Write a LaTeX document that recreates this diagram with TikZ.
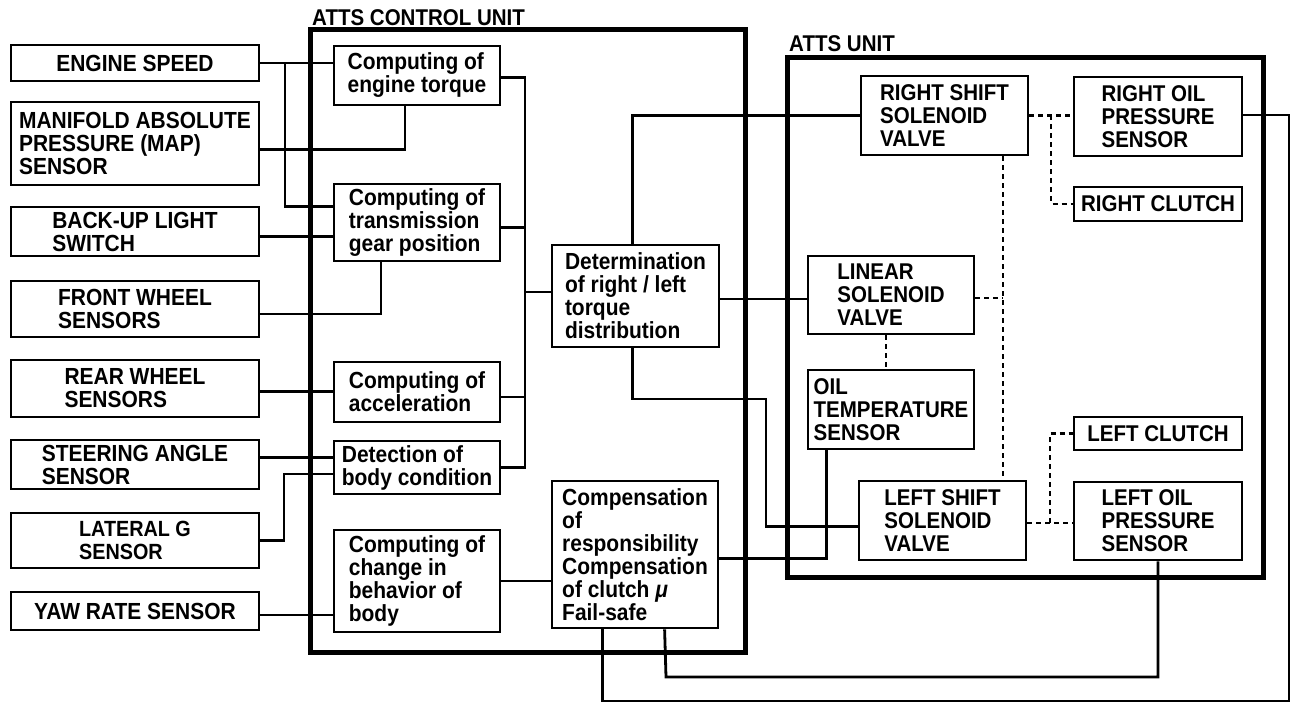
\documentclass[tikz,border=0pt]{standalone}
\usepackage{fontspec}
\setmainfont{Liberation Sans}[FakeStretch=0.9]
\usetikzlibrary{positioning}

\begin{document}
\begin{tikzpicture}[
    x=1pt, y=-1pt,
    sensor/.style={draw, line width=2.8pt, minimum width=248pt, inner sep=0pt,
                   align=left, font=\fontsize{23.3}{23}\selectfont\bfseries},
    proc/.style={draw, line width=2.8pt, minimum width=166pt, inner sep=0pt,
                 align=left, font=\fontsize{23.3}{23}\selectfont\bfseries},
    part/.style={draw, line width=2.8pt, minimum width=167pt, inner sep=0pt,
                 align=left, font=\fontsize{22.8}{23}\selectfont\bfseries},
    frame/.style={line width=5pt},
    wire/.style={line width=2.8pt},
    link/.style={line width=2.2pt, dash pattern=on 5pt off 4pt},
    title/.style={inner sep=0pt, anchor=base west, font=\fontsize{22.8}{23}\selectfont\bfseries},
]
\useasboundingbox (0,0) rectangle (1312,708);

% === Unit frames ===
\draw[frame] (310,30) rectangle (745,652);
\draw[frame] (787,58) rectangle (1263,577);
\node[title] (cuTitle) at (312,26) {ATTS CONTROL UNIT};
\node[title] (auTitle) at (789,52) {ATTS UNIT};

% === Sensors and switches (left column) ===
\node[sensor, minimum height=36pt] (es)  at (135,63)    {ENGINE SPEED};
\node[sensor, minimum height=83pt] (map) at (135,143.5) {MANIFOLD ABSOLUTE\\PRESSURE (MAP)\\SENSOR};
\node[sensor, minimum height=49pt] (bul) at (135,231.5) {BACK-UP LIGHT\\SWITCH};
\node[sensor, minimum height=56pt] (fws) at (135,309)   {FRONT WHEEL\\SENSORS};
\node[sensor, minimum height=57pt] (rws) at (135,388.5) {REAR WHEEL\\SENSORS};
\node[sensor, minimum height=49pt] (sas) at (135,464.5) {STEERING ANGLE\\SENSOR};
\node[sensor, minimum height=55pt, font=\fontsize{22}{23}\selectfont\bfseries] (lgs) at (135,540.5) {LATERAL G\\SENSOR};
\node[sensor, minimum height=38pt] (yrs) at (135,611)   {YAW RATE SENSOR};

% === Computing blocks (control unit) ===
\node[proc, minimum height=59pt]  (cet)  at (417,75.5)  {Computing of\\engine torque};
\node[proc, minimum height=77pt]  (ctg)  at (417,222.5) {Computing of\\transmission\\gear position};
\node[proc, minimum height=60pt]  (cacc) at (417,392)   {Computing of\\acceleration};
\node[proc, minimum height=53pt]  (dbc)  at (417,467.5) {Detection of\\body condition};
\node[proc, minimum height=102pt] (ccb)  at (417,581)   {Computing of\\change in\\behavior of\\body};
\node[proc, minimum height=102pt, minimum width=167pt] (dtd) at (635.5,296) {Determination\\of\ right / left\\torque\\distribution};
\node[proc, minimum height=147pt] (cmp)  at (635,554.5) {Compensation\\of\\responsibility\\Compensation\\of clutch\ \textit{μ}\\Fail-safe};

% === Valves, sensors and clutches (ATTS unit) ===
\node[part, minimum height=79pt] (rss) at (944.5,115.5) {RIGHT SHIFT\\SOLENOID\\VALVE};
\node[part, minimum height=79pt, minimum width=168pt] (rops) at (1158,116.5) {RIGHT OIL\\PRESSURE\\SENSOR};
\node[part, minimum height=34pt, minimum width=168pt] (rcl)  at (1158,204)   {RIGHT CLUTCH};
\node[part, minimum height=78pt, minimum width=166pt] (lsv)  at (891,295)    {LINEAR\\SOLENOID\\VALVE};
\node[part, minimum height=79pt, minimum width=166pt] (ots)  at (891,409.5)  {OIL\\TEMPERATURE\\SENSOR};
\node[part, minimum height=79pt] (lss) at (942.5,520.5) {LEFT SHIFT\\SOLENOID\\VALVE};
\node[part, minimum height=33pt, minimum width=168pt] (lcl)  at (1158,433.5) {LEFT CLUTCH};
\node[part, minimum height=78pt, minimum width=168pt] (lops) at (1158,521)   {LEFT OIL\\PRESSURE\\SENSOR};

% === Helper coordinates ===
\coordinate (esx) at (285,0);   % engine speed branch
\coordinate (bus) at (525,0);   % collecting line
\coordinate (dv)  at (1003,0);  % dashed line between shift valves

% === Inputs to computing blocks ===
\draw[wire] (es.east) -- (es.east -| cet.west);
\draw[wire] (es.east -| esx) |- ([yshift=-24pt]ctg.north west);
\draw[wire] ([yshift=-6pt]map.east) -| ([xshift=-12pt]cet.south);
\draw[wire] ([yshift=-5pt]bul.east) -- ([yshift=-5pt]bul.east -| ctg.west);
\draw[wire] ([yshift=-5pt]fws.east) -| ([xshift=-36pt]ctg.south);
\draw[wire] ([yshift=-3pt]rws.east) -- ([yshift=-3pt]rws.east -| cacc.west);
\draw[wire] ([yshift=7pt]sas.east) -- ([yshift=7pt]sas.east -| dbc.west);
\draw[wire] (lgs.east) -| (284,474) -- (dbc.west |- 284,474);
\draw[wire] ([yshift=-4pt]yrs.east) -- ([yshift=-4pt]yrs.east -| ccb.west);

% === Computing blocks to determination / compensation ===
\draw[wire] ([yshift=-2pt]cet.east) -| (dbc.east -| bus) -- (dbc.east);
\draw[wire] ([yshift=-5pt]ctg.east) -- ([yshift=-5pt]ctg.east -| bus);
\draw[wire] ([yshift=-5pt]cacc.east) -- ([yshift=-5pt]cacc.east -| bus);
\draw[wire] ([yshift=4pt]dtd.west -| bus) -- ([yshift=4pt]dtd.west);
\draw[wire] (ccb.east) -- (ccb.east -| cmp.west);

% === Determination to solenoid valves ===
\draw[wire] ([yshift=-3pt]dtd.east) -- ([yshift=-3pt]dtd.east -| lsv.west);
\draw[wire] ([xshift=-3pt]dtd.north) |- (rss.west);
\draw[wire] ([xshift=-3pt]dtd.south) |- (766,399) |- ([yshift=-6pt]lss.west);

% === Feedback to compensation ===
\draw[wire] ([xshift=20pt]ots.south west) |- ([yshift=-4pt]cmp.east);
\draw[wire] ([yshift=1.5pt]rops.east) -| (1289,701) -| ([xshift=52pt]cmp.south west);
\draw[wire] (lops.south) |- (666,677) -- ([xshift=114pt]cmp.south west);

% === Hydraulic links (dashed) ===
\draw[link] (rss.east) -- (rss.east -| rops.west);
\draw[link] (rss.east -| 1051,0) |- (rcl.west);
\draw[link] (rss.south -| dv) -- (lss.north -| dv);
\draw[link] ([yshift=-3pt]lsv.east) -- ([yshift=-3pt]lsv.east -| dv);
\draw[link] ([xshift=-5pt]lsv.south) -- ([xshift=-5pt]ots.north);
\draw[link] ([yshift=-2.5pt]lss.east) -- ([yshift=-2.5pt]lss.east -| lops.west);
\draw[link] ([yshift=-2.5pt]lss.east -| 1050,0) |- (lcl.west);

\end{tikzpicture}
\end{document}
